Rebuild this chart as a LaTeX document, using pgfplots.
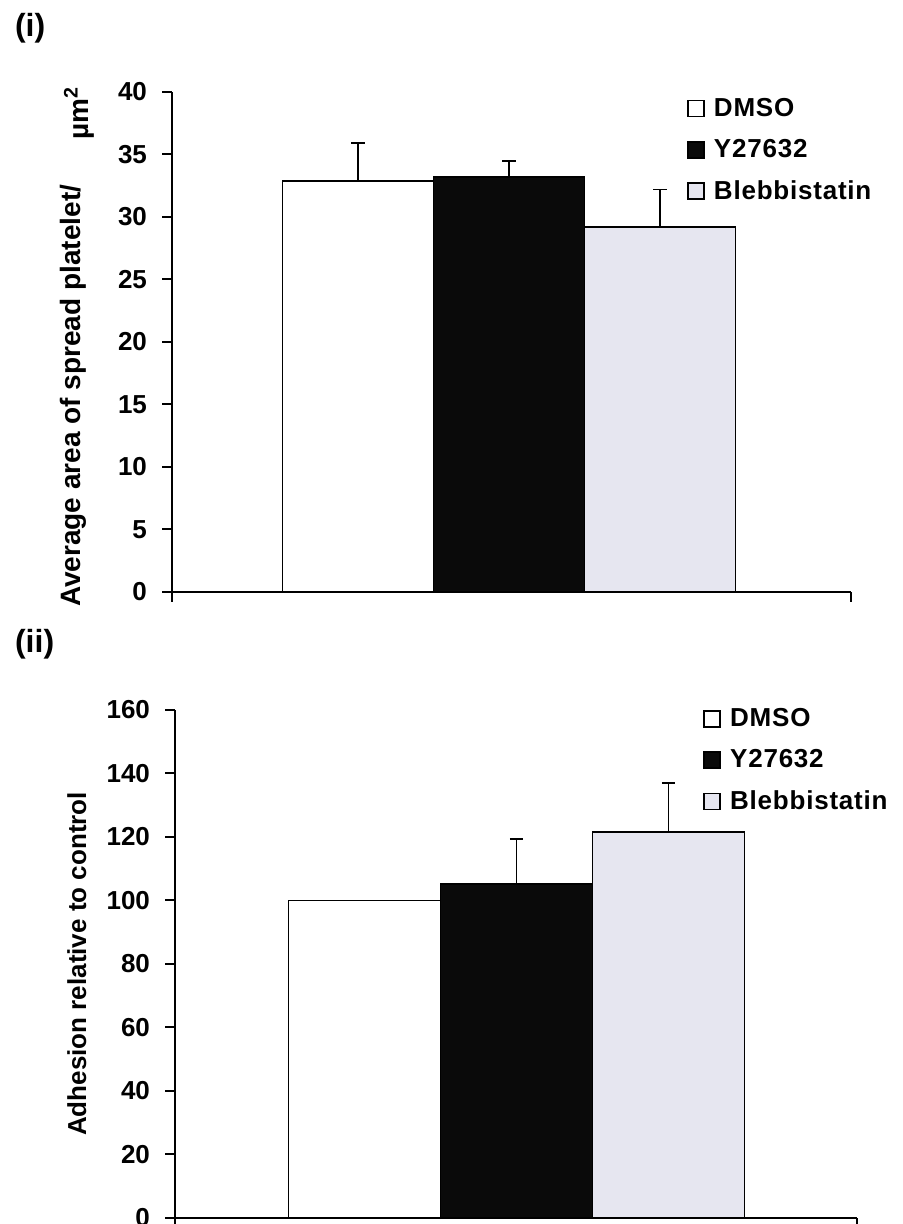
\documentclass[border=0pt]{standalone}
\usepackage{pgfplots}
\pgfplotsset{compat=1.18}
\usepackage{fontspec}
\setmainfont{Liberation Sans}
\definecolor{blebb}{HTML}{E6E6F0}
\definecolor{ybar}{HTML}{0A0A0A}
\pgfplotsset{
  myaxis/.style={
    scale only axis,
    axis lines*=left,
    axis line style={line width=1pt},
    tick align=outside,
    major tick length=5pt,
    tick style={line width=1pt, black},
    xticklabels={},
    every tick label/.append style={font=\fontsize{13}{15}\selectfont\bfseries},
    /pgf/number format/assume math mode=true,
    yticklabel style={xshift=-4pt},
    ylabel style={font=\fontsize{13}{15}\selectfont\bfseries, anchor=center},
    ybar, bar shift=0pt,
    legend cell align=left,
    legend style={draw=none, fill=none, font=\fontsize{13}{15}\selectfont\bfseries\addfontfeature{LetterSpace=3}, row sep=6pt, inner sep=0pt, anchor=north west},
    legend image code/.code={\draw[#1, line width=0.9pt, draw=black] (0pt,-4pt) rectangle (8pt,4pt); \path[draw=none, fill=none] (11pt,0pt);},
    error bars/y dir=plus, error bars/y explicit,
    error bars/error bar style={line width=0.9pt, black},
    error bars/error mark options={rotate=90, mark size=3.3pt, line width=0.9pt, black},
  },
}
\begin{document}
\begin{tikzpicture}
\path[use as bounding box] (0,0) rectangle (451pt,612pt);
\node[anchor=west, font=\fontsize{16}{18}\selectfont\bfseries] at (4pt,598pt) {(i)};
\node[anchor=west, font=\fontsize{16}{18}\selectfont\bfseries] at (4pt,290pt) {(ii)};
\begin{axis}[myaxis,
  at={(86pt,316pt)}, anchor=south west,
  width=339.5pt, height=250pt,
  xmin=172, xmax=851, ymin=0, ymax=40,
  xtick={172,851},
  ytick={0,5,...,40},
  bar width=151,
  ylabel={Average area of spread platelet/\hspace{1.6em}\raisebox{-4pt}{\textmu m\textsuperscript{2}}},
  ylabel style={at={(axis description cs:-0.140,0.49)}, font=\fontsize{14}{16}\selectfont\bfseries},
  legend style={at={(axis description cs:0.758,0.997)}},
]
\addplot[fill=white, draw=black, line width=0.9pt] coordinates {(358,32.9) +- (0,3.0)};
\addplot[fill=ybar, draw=black, line width=0.9pt] coordinates {(509,33.2) +- (0,1.3)};
\addplot[fill=blebb, draw=black, line width=0.9pt] coordinates {(660,29.2) +- (0,3.0)};
\legend{DMSO, Y27632, Blebbistatin}
\end{axis}
\begin{axis}[myaxis,
  at={(87.5pt,3pt)}, anchor=south west,
  width=341pt, height=254pt,
  xmin=175, xmax=857, ymin=0, ymax=160,
  xtick={175,857},
  ytick={0,20,...,160},
  bar width=152,
  ylabel={Adhesion relative to control},
  ylabel style={at={(axis description cs:-0.144,0.5)}},
  legend style={at={(axis description cs:0.774,1.012)}},
]
\addplot[fill=white, draw=black, line width=0.9pt] coordinates {(364.5,100)};
\addplot[fill=ybar, draw=black, line width=0.9pt] coordinates {(516.5,105.2) +- (0,14.2)};
\addplot[fill=blebb, draw=black, line width=0.9pt] coordinates {(668.5,121.6) +- (0,15.4)};
\legend{DMSO, Y27632, Blebbistatin}
\end{axis}
\end{tikzpicture}
\end{document}
